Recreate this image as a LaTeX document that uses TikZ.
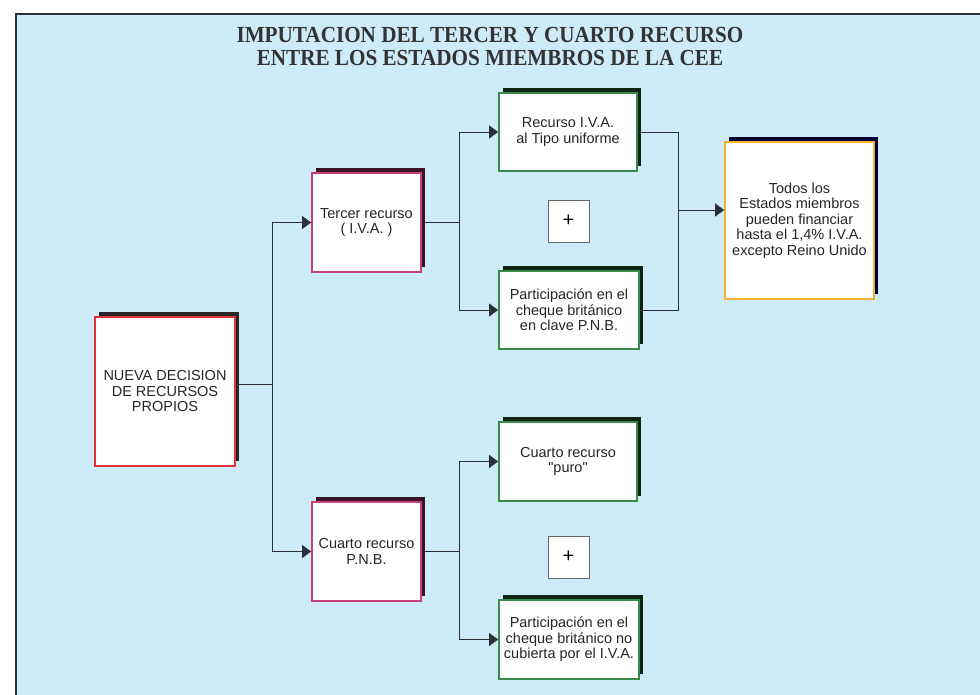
\documentclass[tikz,border=0pt]{standalone}
\usepackage{fontspec}
\setmainfont{Liberation Sans}
\newfontfamily\titlefont{Liberation Serif}
\usetikzlibrary{arrows.meta,shadows}
\definecolor{panel}{HTML}{CDEBF8}
\definecolor{redb}{HTML}{E0303A}
\definecolor{pinkb}{HTML}{C8407A}
\definecolor{greenb}{HTML}{3A8A4A}
\definecolor{orangeb}{HTML}{F2B430}
\definecolor{lineC}{HTML}{2A2F38}
\tikzset{
  box/.style={draw, line width=1.8pt, fill=white, inner sep=1pt, align=center,
    font=\fontsize{14.5}{15.5}\selectfont, text=black!85},
  sh/.style={drop shadow={shadow xshift=4pt, shadow yshift=5pt, fill=#1, opacity=1}},
  conn/.style={draw=lineC, line width=0.9pt},
  arr/.style={conn, -{Triangle[length=9pt,width=13pt]}, color=lineC},
  plusbox/.style={draw=black!60, line width=0.8pt, fill=white, minimum width=41pt, minimum height=42pt, font=\fontsize{20}{20}\selectfont}
}
\begin{document}
\begin{tikzpicture}[x=1pt,y=-1pt]
\useasboundingbox (0,0) rectangle (980,695);
\fill[white] (0,0) rectangle (980,695);
\fill[panel] (16,14) rectangle (980,695);
\draw[lineC, line width=1.6pt] (16,695) -- (16,14) -- (980,14);
\node[font=\titlefont\bfseries\fontsize{23}{23}\selectfont, text=black!80, align=center, inner sep=0pt] (title) at (490,47)
  {\scalebox{0.92}[1]{IMPUTACION DEL TERCER Y CUARTO RECURSO}\\\scalebox{0.92}[1]{ENTRE LOS ESTADOS MIEMBROS DE LA CEE}};

\node[box, draw=redb, sh=black!85, minimum width=140pt, minimum height=149pt] (nueva) at (165,391.5) {NUEVA DECISION\\DE RECURSOS\\PROPIOS};
\node[box, draw=pinkb, sh={black!70!pinkb}, minimum width=109pt, minimum height=99pt] (tercer) at (366.5,222.5) {Tercer recurso\\( I.V.A. )};
\node[box, draw=pinkb, sh={black!70!pinkb}, minimum width=109pt, minimum height=99pt] (cuarto) at (366.5,551.5) {Cuarto recurso\\P.N.B.};
\node[box, draw=greenb, sh={black!75!greenb}, minimum width=138pt, minimum height=78pt] (iva) at (568,132) {Recurso I.V.A.\\al Tipo uniforme};
\node[box, draw=greenb, sh={black!75!greenb}, minimum width=140pt, minimum height=78pt] (part1) at (569,310) {Participación en el\\cheque británico\\en clave P.N.B.};
\node[box, draw=greenb, sh={black!75!greenb}, minimum width=138pt, minimum height=79pt] (puro) at (568,461.5) {Cuarto recurso\\\textquotedbl puro\textquotedbl};
\node[box, draw=greenb, sh={black!75!greenb}, minimum width=140pt, minimum height=79pt] (part2) at (569,639.5) {Participación en el\\cheque británico no\\cubierta por el I.V.A.};
\node[box, draw=orangeb, sh={black!80!blue}, minimum width=149pt, minimum height=157pt] (todos) at (799.5,220.5) {Todos los\\Estados miembros\\pueden financiar\\hasta el 1,4\% I.V.A.\\excepto Reino Unido};
\node[plusbox] (plus1) at (568.5,221) {+};
\node[plusbox] (plus2) at (568.5,557) {+};

% junctions
\coordinate (j0) at (272,384);
\coordinate (j1) at (459,222.5);
\coordinate (j2) at (459,551.5);
\coordinate (j3) at (678,210);

\draw[conn] (j0 -| nueva.east) -- (j0);
\draw[conn] (j0 |- tercer.west) -- (j0 |- cuarto.west);
\draw[arr] (j0 |- tercer.west) -- (tercer.west);
\draw[arr] (j0 |- cuarto.west) -- (cuarto.west);

\draw[conn] (tercer.east) -- (j1);
\draw[conn] (j1 |- iva.west) -- (j1 |- part1.west);
\draw[arr] (j1 |- iva.west) -- (iva.west);
\draw[arr] (j1 |- part1.west) -- (part1.west);

\draw[conn] (cuarto.east) -- (j2);
\draw[conn] (j2 |- puro.west) -- (j2 |- part2.west);
\draw[arr] (j2 |- puro.west) -- (puro.west);
\draw[arr] (j2 |- part2.west) -- (part2.west);

\draw[conn] (iva.east) -- (j3 |- iva.east) -- (j3 |- part1.east) -- (part1.east);
\draw[arr] (j3) -- (j3 -| todos.west);
\end{tikzpicture}
\end{document}
